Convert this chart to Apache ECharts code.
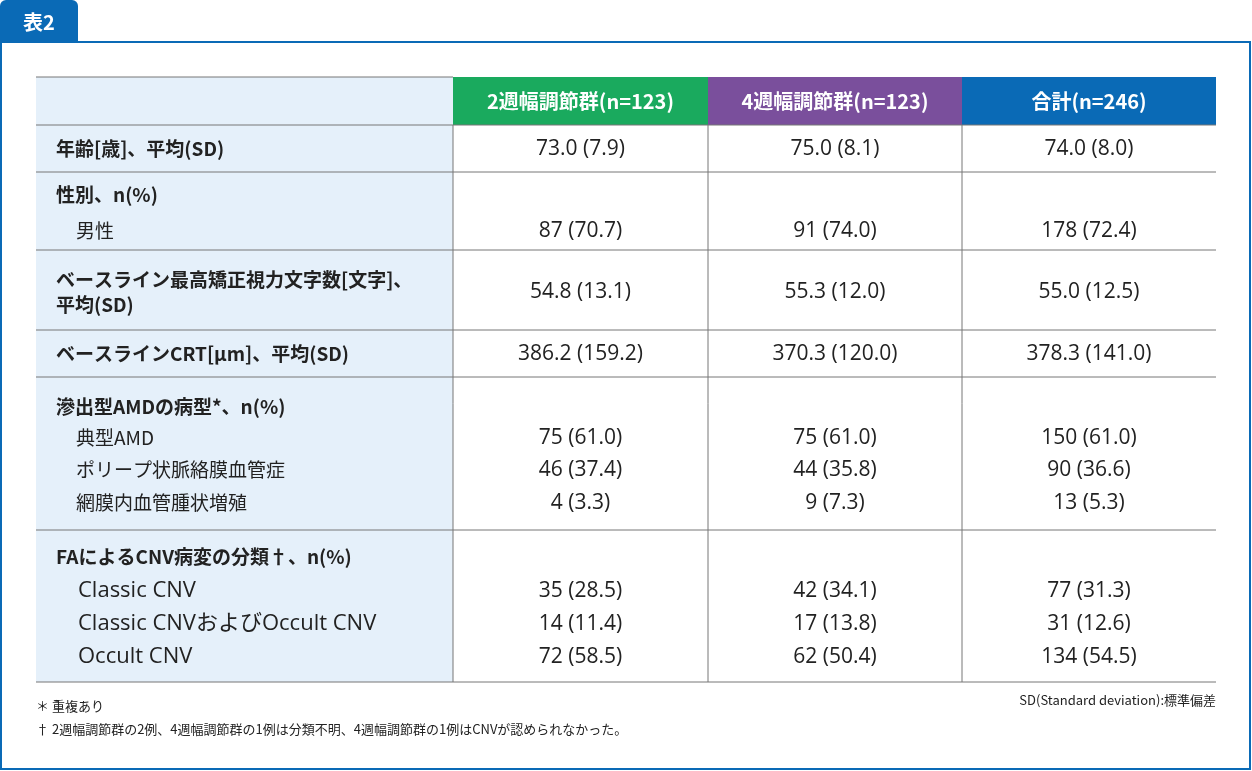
<!DOCTYPE html>
<html><head><meta charset="utf-8">
<script src="https://cdn.jsdelivr.net/npm/echarts@6/dist/echarts.min.js"></script>
<style>html,body{margin:0;padding:0;background:#fff}#c{width:1252px;height:771px}</style>
</head><body><div id="c"></div>
<script>
const headers = ['2週幅調節群(n=123)', '4週幅調節群(n=123)', '合計(n=246)'];
const headerColors = ['#1aaa5e', '#7a4f9c', '#0a6ab6'];
const rowLabels = [
  [['年齢[歳]、平均(SD)', 1]],
  [['性別、n(%)', 1], ['男性', 2]],
  [['ベースライン最高矯正視力文字数[文字]、', 1], ['平均(SD)', 1]],
  [['ベースラインCRT[μm]、平均(SD)', 1]],
  [['滲出型AMDの病型*、n(%)', 1], ['典型AMD', 2], ['ポリープ状脈絡膜血管症', 2], ['網膜内血管腫状増殖', 2]],
  [['FAによるCNV病変の分類†、n(%)', 1], ['Classic CNV', 3], ['Classic CNVおよびOccult CNV', 3], ['Occult CNV', 3]]
];
const col2w = [['73.0 (7.9)'], ['', '87 (70.7)'], ['54.8 (13.1)'], ['386.2 (159.2)'], ['', '75 (61.0)', '46 (37.4)', '4 (3.3)'], ['', '35 (28.5)', '14 (11.4)', '72 (58.5)']];
const col4w = [['75.0 (8.1)'], ['', '91 (74.0)'], ['55.3 (12.0)'], ['370.3 (120.0)'], ['', '75 (61.0)', '44 (35.8)', '9 (7.3)'], ['', '42 (34.1)', '17 (13.8)', '62 (50.4)']];
const colTotal = [['74.0 (8.0)'], ['', '178 (72.4)'], ['55.0 (12.5)'], ['378.3 (141.0)'], ['', '150 (61.0)', '90 (36.6)', '13 (5.3)'], ['', '77 (31.3)', '31 (12.6)', '134 (54.5)']];
const footLeft = ['＊ 重複あり', '† 2週幅調節群の2例、4週幅調節群の1例は分類不明、4週幅調節群の1例はCNVが認められなかった。'];
const footRight = 'SD(Standard deviation):標準偏差';

const F = '"Noto Sans CJK JP", "Noto Sans", sans-serif';
const FV = '"Open Sans", "Noto Sans CJK JP", sans-serif';
const colX = [36, 453, 708, 962, 1216];
const rowY = [125, 172, 250, 330, 377, 530, 682];
const lineY = [[149], [195, 231], [280, 305], [354], [407, 438, 470, 503], [557, 591, 624, 657]];
const valY = [[149], [null, 231], [292], [354], [null, 438, 470, 503], [null, 591, 624, 657]];
const g = [];
g.push({type:'rect', shape:{x:1,y:42,width:1249,height:727}, style:{fill:'#fff', stroke:'#0a6ab6', lineWidth:2}});
g.push({type:'rect', shape:{x:0,y:0,width:78,height:43,r:[6,6,0,0]}, style:{fill:'#0a6ab6'}});
g.push({type:'text', x:39, y:22, style:{text:'表2', fill:'#fff', font:'bold 20px '+F, align:'center', verticalAlign:'middle'}});
g.push({type:'rect', shape:{x:36,y:77,width:417,height:605}, style:{fill:'#e5f0fa'}});
headers.forEach((h,i)=>{
  g.push({type:'rect', shape:{x:colX[i+1],y:77,width:colX[i+2]-colX[i+1],height:48}, style:{fill:headerColors[i]}});
  g.push({type:'text', x:(colX[i+1]+colX[i+2])/2, y:101, style:{text:h, fill:'#fff', font:'bold 20px '+F, align:'center', verticalAlign:'middle'}});
});
g.push({type:'line', shape:{x1:36,y1:77,x2:453,y2:77}, style:{stroke:'#777',lineWidth:1}});
rowY.forEach(y=>g.push({type:'line', shape:{x1:36,y1:y,x2:1216,y2:y}, style:{stroke:'#777',lineWidth:1}}));
[453,708,962].forEach(x=>g.push({type:'line', shape:{x1:x,y1:125,x2:x,y2:682}, style:{stroke:'#777',lineWidth:1}}));
rowLabels.forEach((r,ri)=>{
  r.forEach(([t,lv],li)=>{
    g.push({type:'text', x: lv===1?56:(lv===2?76:78), y: lineY[ri][li], style:{text:t, fill:'#222', font:(lv===1?'bold 19px '+F:(lv===2?'19px '+F:'22px '+FV)), verticalAlign:'middle'}});
  });
});
[col2w, col4w, colTotal].forEach((col,ci)=>{
  const cx = (colX[ci+1]+colX[ci+2])/2;
  col.forEach((r,ri)=>r.forEach((v,li)=>{
    if(!v) return;
    g.push({type:'text', x:cx, y:valY[ri][li], style:{text:v, fill:'#222', font:'21px '+FV, align:'center', verticalAlign:'middle'}});
  }));
});
footLeft.forEach((t,i)=>g.push({type:'text', x:36, y:706+i*23, style:{text:t, fill:'#222', font:'13px '+F, verticalAlign:'middle'}}));
g.push({type:'text', x:1216, y:700, style:{text:footRight, fill:'#222', font:'13px '+F, align:'right', verticalAlign:'middle'}});
const chart = echarts.init(document.getElementById('c'));
chart.setOption({animation:false, graphic:{elements:g}});
</script></body></html>
